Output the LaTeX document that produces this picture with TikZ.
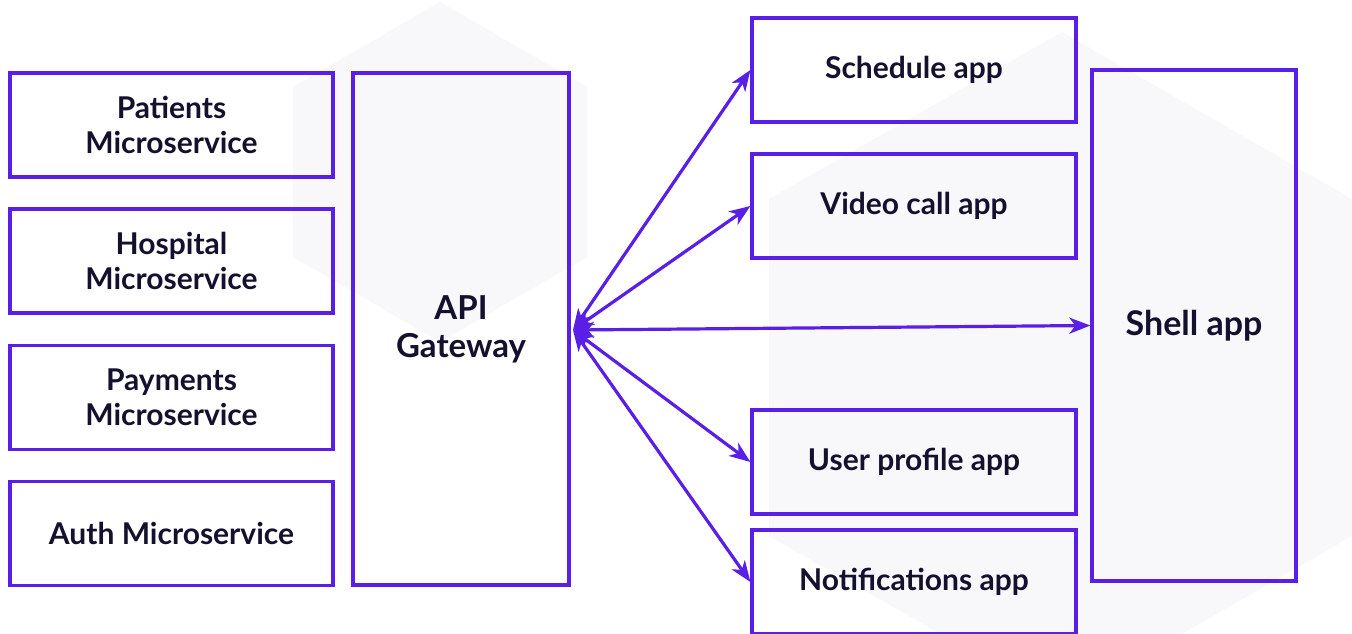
\documentclass[tikz,border=0pt]{standalone}
\usepackage{fontspec}
\setmainfont{Lato}
\usetikzlibrary{arrows.meta}
\definecolor{violet}{HTML}{5A1FE6}
\definecolor{ink}{HTML}{14112F}
\definecolor{hexfill}{HTML}{F8F8FA}
\tikzset{
  box/.style={draw=violet, line width=3.2pt, align=center, text=ink,
    font=\fontsize{30}{35}\selectfont\bfseries, inner sep=0pt},
  bigbox/.style={box, font=\fontsize{33}{38}\selectfont\bfseries},
  link/.style={draw=violet, line width=3.2pt,
    {Stealth[length=21pt,width=16pt,inset=6pt]}-{Stealth[length=21pt,width=16pt,inset=6pt]}},
  hex/.style={fill=hexfill, draw=none}
}
\begin{document}
\begin{tikzpicture}[x=1pt,y=-1pt]
\useasboundingbox (0,0) rectangle (1352,634);
\fill[white] (0,0) rectangle (1352,634);
% background hexagons
\fill[hex] (440,2) -- (587,87) -- (587,257) -- (440,342) -- (293,257) -- (293,87) -- cycle;
\fill[hex] (1062,32) -- (1352,199) -- (1352,536) -- (1062,703) -- (769,536) -- (769,199) -- cycle;
% left column
\node[box, minimum width=323pt, minimum height=104pt] (pat) at (171.5,125) {Patients\\Microservice};
\node[box, minimum width=323pt, minimum height=104pt] (hos) at (171.5,261) {Hospital\\Microservice};
\node[box, minimum width=323pt, minimum height=104pt] (pay) at (171.5,397.5) {Payments\\Microservice};
\node[box, minimum width=323pt, minimum height=104pt] (aut) at (171.5,533.5) {Auth Microservice};
% gateway
\node[bigbox, minimum width=216pt, minimum height=512pt] (api) at (461,329) {API\\Gateway};
% right column
\node[box, minimum width=324pt, minimum height=104pt] (sch) at (914,70) {Schedule app};
\node[box, minimum width=324pt, minimum height=104pt] (vid) at (914,206) {Video call app};
\node[box, minimum width=324pt, minimum height=104pt] (usr) at (914,462) {User profile app};
\node[box, minimum width=324pt, minimum height=104pt] (ntf) at (914,582) {Notifications app};
\node[bigbox, minimum width=204pt, minimum height=511pt, font=\fontsize{34}{38}\selectfont\bfseries] (shl) at (1194,325.5) {Shell app};
% connectors
\coordinate (gw) at (573,330);
\draw[link] (gw) -- (sch.west);
\draw[link] (gw) -- (vid.west);
\draw[link] (gw) -- (shl.west);
\draw[link] (gw) -- (usr.west);
\draw[link] (gw) -- (ntf.west);
\end{tikzpicture}
\end{document}
